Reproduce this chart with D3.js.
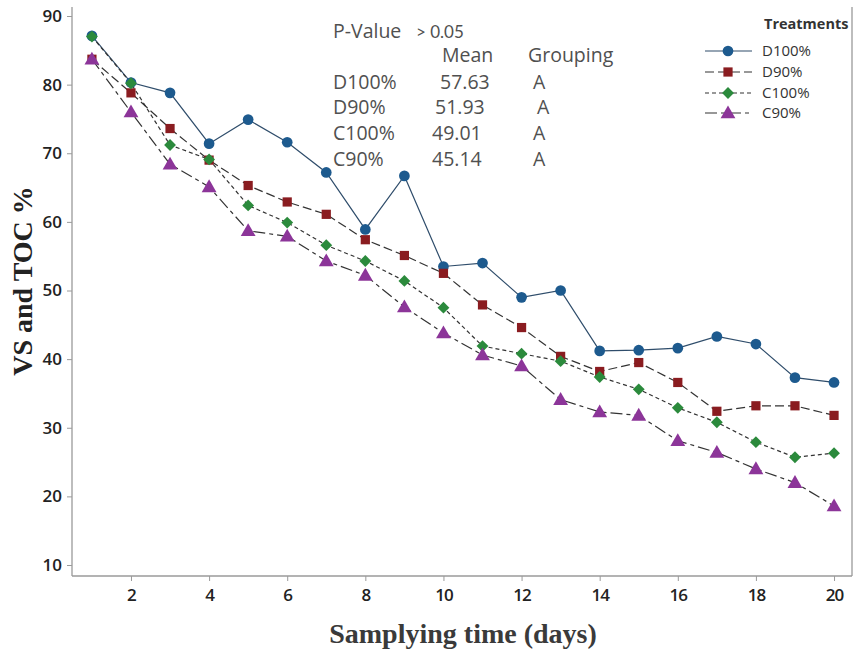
<!DOCTYPE html>
<html><head><meta charset="utf-8">
<script src="https://cdn.jsdelivr.net/npm/d3@7"></script>
<style>body{margin:0;background:#fff}svg{display:block}</style>
</head><body>
<svg id="c" width="855" height="651"></svg>
<script>
const days = d3.range(1, 21);
const seriesNames = ["D100%", "D90%", "C100%", "C90%"];
const D100 = [87.1, 80.3, 78.8, 71.4, 74.9, 71.6, 67.2, 58.9, 66.7, 53.5, 54.0, 49.0, 50.0, 41.2, 41.3, 41.6, 43.3, 42.2, 37.3, 36.6];
const D90  = [83.7, 78.8, 73.6, 69.0, 65.3, 62.9, 61.1, 57.4, 55.1, 52.5, 47.9, 44.6, 40.4, 38.2, 39.5, 36.6, 32.4, 33.2, 33.2, 31.8];
const C100 = [87.0, 80.2, 71.2, 69.1, 62.4, 59.9, 56.6, 54.3, 51.4, 47.5, 41.9, 40.8, 39.7, 37.4, 35.6, 32.9, 30.8, 27.9, 25.7, 26.3];
const C90  = [83.7, 76.0, 68.4, 65.1, 58.7, 57.9, 54.3, 52.2, 47.6, 43.8, 40.6, 39.0, 34.1, 32.3, 31.8, 28.1, 26.4, 24.0, 22.0, 18.6];
const yTicks = [10, 20, 30, 40, 50, 60, 70, 80, 90];
const xTicks = [2, 4, 6, 8, 10, 12, 14, 16, 18, 20];
const meanValues = ["57.63", "51.93", "49.01", "45.14"];
const groupings = ["A", "A", "A", "A"];
const colors = ["#1d5a8e", "#8a1c20", "#2b8a3c", "#8c3599"];
const lineColors = ["#2f4d6b", "#333", "#333", "#333"];
const dashes = [null, "9,4", "4,3", "12,4,4,4"];
const symbols = [d3.symbolCircle, d3.symbolSquare, d3.symbolSquare, d3.symbolTriangle];
const symSizes = [90, 85, 70, 95];
const symRot = [0, 0, 45, 0];
const allSeries = [D100, D90, C100, C90];

const svg = d3.select("#c");
const x = d3.scaleLinear().domain([0.49, 20.46]).range([72, 852]);
const y = d3.scaleLinear().domain([10, 90]).range([565, 16]);
const frameBottom = 576, frameTop = 7;

// frame
const frameColor = "#9a9a9a";
svg.append("line").attr("x1", 72).attr("x2", 72).attr("y1", frameTop).attr("y2", frameBottom).attr("stroke", frameColor).attr("stroke-width", 1.3);
svg.append("line").attr("x1", 72).attr("x2", 852).attr("y1", frameBottom).attr("y2", frameBottom).attr("stroke", frameColor).attr("stroke-width", 1.3);
svg.append("line").attr("x1", 852).attr("x2", 852).attr("y1", frameTop).attr("y2", frameBottom).attr("stroke", frameColor).attr("stroke-width", 1.3);

// y axis
const yAxis = svg.append("g").attr("transform", "translate(72,0)")
  .call(d3.axisLeft(y).tickValues(yTicks).tickSize(5).tickPadding(5).tickFormat(d3.format("d")));
yAxis.select(".domain").remove();
yAxis.selectAll(".tick line").attr("stroke", frameColor);
yAxis.selectAll("text").attr("font-family", "'Open Sans', sans-serif").attr("font-size", 17).attr("font-weight", 600).attr("fill", "#222");

// x axis
const xAxis = svg.append("g").attr("transform", `translate(0,${frameBottom})`)
  .call(d3.axisBottom(x).tickValues(xTicks).tickSize(5).tickPadding(8).tickFormat(d3.format("d")));
xAxis.select(".domain").remove();
xAxis.selectAll(".tick line").attr("stroke", frameColor);
xAxis.selectAll("text").attr("font-family", "'Open Sans', sans-serif").attr("font-size", 17).attr("font-weight", 600).attr("fill", "#222")
  .style("letter-spacing", "-1px");

// titles
svg.append("text").attr("x", 463).attr("y", 643).attr("text-anchor", "middle")
  .attr("font-family", "'Liberation Serif', 'Times New Roman', serif").attr("font-weight", "bold")
  .attr("font-size", 28).attr("fill", "#3a3a3a").text("Samplying time (days)");
svg.append("text").attr("transform", "translate(32,281) rotate(-90)").attr("text-anchor", "middle")
  .attr("font-family", "'Liberation Serif', 'Times New Roman', serif").attr("font-weight", "bold")
  .attr("font-size", 28).attr("fill", "#222").text("VS and TOC %");

// lines
const line = d3.line().x((d, i) => x(days[i])).y(d => y(d));
allSeries.forEach((s, k) => {
  svg.append("path").datum(s).attr("d", line).attr("fill", "none")
    .attr("stroke", lineColors[k]).attr("stroke-width", 1.2)
    .attr("stroke-dasharray", dashes[k]);
});
allSeries.forEach((s, k) => {
  svg.append("g").selectAll("path").data(s).join("path")
    .attr("transform", (d, i) => `translate(${x(days[i])},${y(d) + (k === 3 ? 1 : 0)}) rotate(${symRot[k]})`)
    .attr("d", d3.symbol().type(symbols[k]).size(symSizes[k]))
    .attr("fill", colors[k]);
});

// stats text
const tf = "'Open Sans', sans-serif";
const st = svg.append("g").attr("font-family", tf).attr("font-size", 19.5).attr("fill", "#505050");
st.append("text").attr("x", 333).attr("y", 38).text("P-Value");
st.append("text").attr("x", 416).attr("y", 38).attr("font-family", "Lato, sans-serif").attr("font-size", 17).text("> 0.05");
st.append("text").attr("x", 442).attr("y", 62).text("Mean");
st.append("text").attr("x", 528).attr("y", 62).text("Grouping");
const rowsY = [89, 114, 140, 166];
const meanX = [440, 435, 432, 432];
const grpX = [533, 537, 533, 533];
seriesNames.forEach((n, i) => {
  st.append("text").attr("x", 333).attr("y", rowsY[i]).text(n);
  st.append("text").attr("x", meanX[i]).attr("y", rowsY[i]).text(meanValues[i]);
  st.append("text").attr("x", grpX[i]).attr("y", rowsY[i]).text(groupings[i]);
});

// legend
const lg = svg.append("g").attr("font-family", tf).attr("fill", "#333");
lg.append("text").attr("x", 764).attr("y", 29).attr("font-size", 14.5).attr("font-weight", "bold").text("Treatments");
const legY = [51, 72, 93, 113];
seriesNames.forEach((n, k) => {
  lg.append("line").attr("x1", 705).attr("x2", 752).attr("y1", legY[k]).attr("y2", legY[k])
    .attr("stroke", lineColors[k]).attr("stroke-width", 1.2).attr("stroke-dasharray", dashes[k]);
  lg.append("path").attr("transform", `translate(728,${legY[k] + (k === 3 ? 1 : 0)}) rotate(${symRot[k]})`)
    .attr("d", d3.symbol().type(symbols[k]).size(symSizes[k])).attr("fill", colors[k]);
  lg.append("text").attr("x", 762).attr("y", legY[k] + 5).attr("font-size", 15).text(n);
});
</script>
</body></html>
